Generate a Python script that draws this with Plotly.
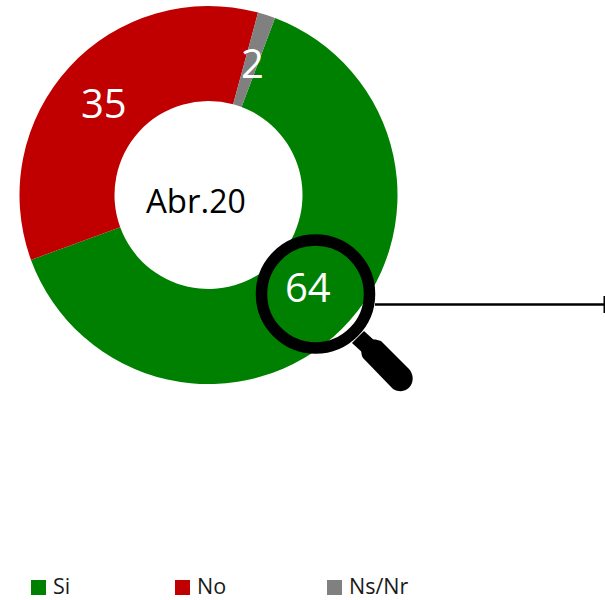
import plotly.graph_objects as go

categories = ["Si", "No", "Ns/Nr"]
values = [63.7, 34.8, 1.5]
value_labels = ["64", "35", "2"]
colors = ["#008000", "#C00000", "#808080"]
center_label = "Abr.<span style='font-size:32px'>20</span>"

W, H = 605, 600
FONT = "Open Sans"
cx, cy, R = 208.5, 195, 189


def X(v):
    return v / W


def Y(v):
    return 1 - v / H


fig = go.Figure(
    go.Pie(
        labels=categories,
        values=values,
        hole=94 / 189,
        sort=False,
        direction="clockwise",
        rotation=20.6,
        marker=dict(colors=colors, line=dict(width=0)),
        textinfo="none",
        hoverinfo="label+value",
        domain=dict(x=[X(cx - R), X(cx + R)], y=[Y(cy + R), Y(cy - R)]),
        showlegend=False,
    )
)

shapes = []
annotations = []


def text(x, y, s, size, color, anchor="center"):
    annotations.append(
        dict(x=X(x), y=Y(y), xref="paper", yref="paper", text=s, showarrow=False,
             xanchor=anchor, yanchor="middle", font=dict(family=FONT, size=size, color=color))
    )


# value labels on the ring
for pos, lab in zip([(308, 287), (104, 102), (253, 63)], value_labels):
    text(pos[0], pos[1], lab, 40, "white")

text(196, 201, center_label, 33, "black")

# magnifier lens
shapes.append(dict(type="circle", xref="paper", yref="paper",
                   x0=X(261.5), x1=X(369.5), y0=Y(240), y1=Y(348),
                   line=dict(color="black", width=11.5), fillcolor="rgba(0,0,0,0)"))
# magnifier neck and handle
def path(points):
    return "M" + " L".join(f"{X(a):.5f},{Y(b):.5f}" for a, b in points) + " Z"

shapes.append(dict(type="path", xref="paper", yref="paper",
                   path=path([(352, 343), (364, 331), (376, 342), (364, 354)]),
                   fillcolor="black", line=dict(width=0)))
h = (
    f"M{X(363):.5f},{Y(358):.5f} "
    f"C{X(357):.5f},{Y(347):.5f} {X(368):.5f},{Y(335):.5f} {X(381):.5f},{Y(341):.5f} "
    f"L{X(409):.5f},{Y(369):.5f} "
    f"C{X(419):.5f},{Y(381):.5f} {X(407):.5f},{Y(397):.5f} {X(393):.5f},{Y(389):.5f} Z"
)
shapes.append(dict(type="path", xref="paper", yref="paper", path=h,
                   fillcolor="black", line=dict(width=0)))

# leader line
shapes.append(dict(type="line", xref="paper", yref="paper", x0=X(375), x1=X(605), y0=Y(304.5), y1=Y(304.5),
                   line=dict(color="black", width=2.5)))
shapes.append(dict(type="line", xref="paper", yref="paper", x0=X(604.5), x1=X(604.5), y0=Y(296), y1=Y(313),
                   line=dict(color="black", width=2)))

# legend
for left, lab, col in zip([31, 175, 327], categories, colors):
    shapes.append(dict(type="rect", xref="paper", yref="paper", x0=X(left), x1=X(left + 15),
                       y0=Y(580), y1=Y(595), fillcolor=col, line=dict(width=0)))
    text(left + 19.5, 585, lab, 21.5, "#1a1a1a", "left")

fig.update_layout(
    width=W, height=H, margin=dict(l=0, r=0, t=0, b=0),
    paper_bgcolor="white", plot_bgcolor="white",
    shapes=shapes, annotations=annotations, showlegend=False,
)
fig.write_html("out.html", post_script="document.body.style.margin='0';",
               config={"displayModeBar": False})
